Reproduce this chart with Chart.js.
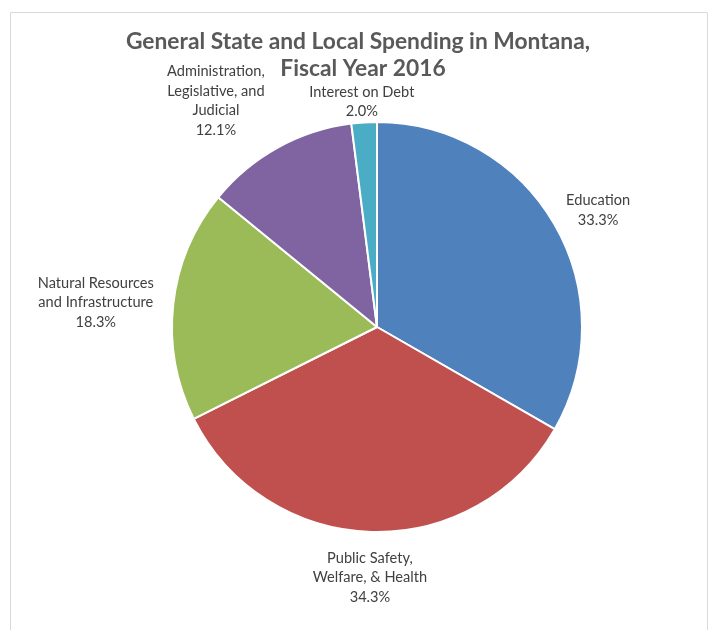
<!DOCTYPE html>
<html>
<head>
<meta charset="utf-8">
<script src="https://cdn.jsdelivr.net/npm/chart.js@4/dist/chart.umd.min.js"></script>
<style>
  html, body { margin:0; padding:0; background:#fff; }
  #wrap { width:709px; height:630px; position:relative; }
</style>
</head>
<body>
<div id="wrap"><canvas id="pie" width="709" height="630"></canvas></div>
<script>
const titleLines = ["General State and Local Spending in Montana,", "Fiscal Year 2016"];
const categories = [
  ["Education"],
  ["Public Safety,", "Welfare, & Health"],
  ["Natural Resources", "and Infrastructure"],
  ["Administration,", "Legislative, and", "Judicial"],
  ["Interest on Debt"]
];
const shares = [33.3, 34.3, 18.3, 12.1, 2.0];
const sliceColors = ["#4F81BD", "#C0504D", "#9BBB59", "#8064A2", "#4BACC6"];

// label placement: gap outside the rim, plus a small nudge where labels crowd
const labelGap = [13, 14, 14, 14, 14];
const labelNudge = [[0, 11], [0, 1], [-3, 6], [-27, 16], [0, 16]];

const LABEL_FONT = "14.6px Lato";
const LINE_H = 19.5;

const frameAndLabels = {
  id: "frameAndLabels",
  beforeDraw(chart){
    const ctx = chart.ctx;
    ctx.save();
    ctx.strokeStyle = "#d9d9d9";
    ctx.lineWidth = 1;
    ctx.beginPath();
    ctx.moveTo(10.5, 640);
    ctx.lineTo(10.5, 12.5);
    ctx.lineTo(707.5, 12.5);
    ctx.lineTo(707.5, 640);
    ctx.stroke();
    ctx.restore();
  },
  afterDatasetsDraw(chart){
    const ctx = chart.ctx;
    ctx.save();
    ctx.fillStyle = "#595959";
    ctx.font = "bold 22.8px Lato";
    ctx.textAlign = "center";
    ctx.textBaseline = "middle";
    ctx.fillText(titleLines[0], 358, 42);
    ctx.fillText(titleLines[1], 363, 69);

    ctx.font = LABEL_FONT;
    ctx.fillStyle = "#404040";
    const arcs = chart.getDatasetMeta(0).data;
    arcs.forEach((arc, i) => {
      const lines = categories[i].concat([shares[i].toFixed(1) + "%"]);
      const w = Math.max(...lines.map(l => ctx.measureText(l).width));
      const h = lines.length * LINE_H;
      const mid = (arc.startAngle + arc.endAngle) / 2;
      const ux = Math.cos(mid), uy = Math.sin(mid);
      const support = Math.abs(ux) * w / 2 + Math.abs(uy) * h / 2;
      const d = arc.outerRadius + labelGap[i] + support;
      const cx = arc.x + ux * d + labelNudge[i][0];
      const cy = arc.y + uy * d + labelNudge[i][1];
      lines.forEach((l, k) => {
        ctx.fillText(l, cx, cy - h / 2 + LINE_H * (k + 0.5));
      });
    });
    ctx.restore();
  }
};

new Chart(document.getElementById("pie"), {
  type: "pie",
  data: {
    labels: categories.map(c => c.join(" ")),
    datasets: [{
      data: shares,
      backgroundColor: sliceColors,
      borderColor: "#ffffff",
      borderWidth: 2
    }]
  },
  options: {
    responsive: false,
    animation: false,
    layout: { padding: { left: 171, right: 126, top: 121, bottom: 97 } },
    plugins: {
      legend: { display: false },
      tooltip: { enabled: false }
    }
  },
  plugins: [frameAndLabels]
});
</script>
</body>
</html>
